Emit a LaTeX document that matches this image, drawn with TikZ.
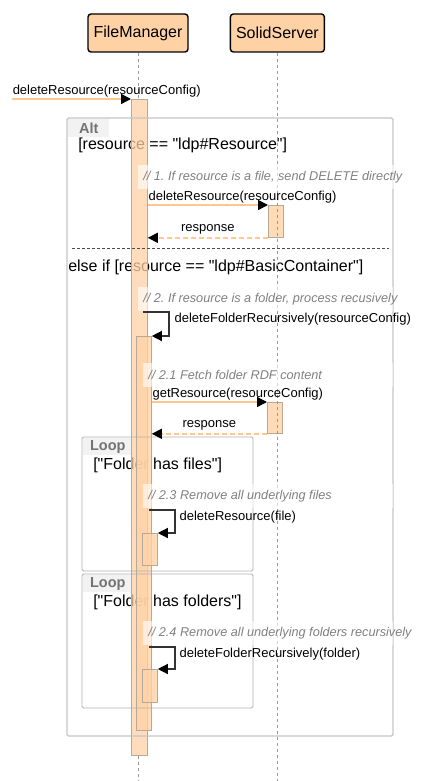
\documentclass[tikz,border=0pt]{standalone}
\usepackage{fontspec}
\setmainfont{Liberation Sans}[Ligatures=TeXOff]
\usetikzlibrary{arrows.meta,positioning}
\frenchspacing

\definecolor{peach}{HTML}{FFD2A6}
\definecolor{peachline}{HTML}{FFC68E}
\definecolor{actborder}{HTML}{B8A898}
\definecolor{framegray}{HTML}{C4C4C4}
\definecolor{notegray}{HTML}{808080}

\begin{document}
\begin{tikzpicture}[x=1pt,y=-1pt,>={Triangle[length=10pt,width=10pt,color=black]},semithick]
   \tikzstyle{actor}=[draw=black,line width=1.4pt,fill=peach,rounded corners=3pt,minimum height=38pt,inner sep=0pt,font=\fontsize{16}{19}\selectfont]
   \tikzstyle{lifeline}=[draw=gray!80,line width=0.8pt,dash pattern=on 3pt off 3pt]
   \tikzstyle{activation}=[draw=actborder,fill=peach,fill opacity=0.8,line width=0.8pt,inner sep=0pt,anchor=north west]
   \tikzstyle{fraglabel}=[fill=gray!10,inner sep=0pt,anchor=north west,text=gray!90!black,font=\fontsize{14.5}{16}\selectfont\bfseries]
   \tikzstyle{guard}=[anchor=west,inner sep=0pt,font=\fontsize{16}{19}\selectfont]
   \tikzstyle{lbl}=[inner sep=0pt,font=\fontsize{13}{15}\selectfont]
   \tikzstyle{call}=[->,draw=peachline,line width=1.5pt]
   \tikzstyle{reply}=[->,draw=peachline,line width=1.5pt,dash pattern=on 5pt off 3pt]
   \tikzstyle{selfcall}=[->,draw=black!80,line width=1.3pt]
   \tikzstyle{noteband}=[fill=white,fill opacity=0.6,inner sep=0pt,minimum height=24pt,anchor=north west]
   \tikzstyle{notetext}=[inner sep=0pt,anchor=west,text=notegray,font=\fontsize{12.7}{14}\selectfont\itshape]

   \useasboundingbox (0,0) rectangle (426,781);

   \node[actor,minimum width=100pt]   (fm)  at (138,33)  {FileManager};
   \node[actor,minimum width=94pt]   (ss)  [right=41pt of fm]  {SolidServer};
   \coordinate (bottom) at (0,781);

   \node[fraglabel,minimum width=41pt,minimum height=18pt]   (altLbl)  at (68,119)  {Alt};
   \node[guard]   (altIf)  at (78,145)  {[resource == "ldp\#Resource"]};
   \node[guard]   (altElse)  at (68,267)  {else if [resource == "ldp\#BasicContainer"]};
   \node[fraglabel,minimum width=49pt,minimum height=17pt]   (filesLbl)  at (83,438)  {Loop};
   \node[guard]   (filesIf)  at (93,465)  {["Folder has files"]};
   \node[fraglabel,minimum width=49pt,minimum height=17pt]   (foldersLbl)  at (83,575)  {Loop};
   \node[guard]   (foldersIf)  at (93,602)  {["Folder has folders"]};

   \node[activation,minimum width=16pt,minimum height=656pt,fill opacity=0.75]   (actFm)  at (131,99)  {};
   \node[activation,minimum width=15pt,minimum height=32pt]   (actSs1)  at (268,205)  {};
   \node[activation,minimum width=15pt,minimum height=394pt]   (actFmRec)  at (136,336)  {};
   \node[activation,minimum width=15pt,minimum height=31pt]   (actSs2)  at (267,402)  {};
   \node[activation,minimum width=15pt,minimum height=32pt]   (actFmFile)  at (142,533)  {};
   \node[activation,minimum width=15pt,minimum height=33pt]   (actFmFolder)  at (142,669)  {};

   \draw[lifeline] (fm.south) -- (fm.south |- actFm.north);
   \draw[lifeline] (fm.south |- actFm.south) -- (fm.south |- bottom);
   \draw[lifeline] (ss.south) -- (ss.south |- bottom);

   \draw[framegray,line width=1.2pt,rounded corners=1.5pt] (67,118) rectangle (393,736);
   \draw[framegray!90!black,line width=0.8pt,rounded corners=1.5pt] (82,437) rectangle (253,571);
   \draw[framegray!90!black,line width=0.8pt,rounded corners=1.5pt] (82,574) rectangle (253,708);
   \draw[black!70,line width=0.7pt,dash pattern=on 3pt off 2pt] (72,248) -- (389,248);

   \coordinate (caller) at (12,99);
   \coordinate (self1) at (143,312);
   \coordinate (self2) at (149,510);
   \coordinate (self3) at (149,647);

   \draw[call] (caller) -- node[lbl,at start,anchor=south west,yshift=1pt] {deleteResource(resourceConfig)} (actFm.north west);
   \draw[call] (actFm.east |- actSs1.north) -- node[lbl,at start,anchor=south west,yshift=1pt] {deleteResource(resourceConfig)} (actSs1.north west);
   \draw[reply] (actSs1.south west) -- node[lbl,above=3pt] {response} (actFm.east |- actSs1.south);
   \draw[selfcall] (self1) -- ++(26,0) node[lbl,anchor=north west,xshift=5pt] {deleteFolderRecursively(resourceConfig)} |- (actFmRec.north east);
   \draw[call] (actFmRec.east |- actSs2.north) -- node[lbl,at start,anchor=south west,yshift=1pt] {getResource(resourceConfig)} (actSs2.north west);
   \draw[reply] (actSs2.south west) -- node[lbl,above=3pt] {response} (actFmRec.east |- actSs2.south);
   \draw[selfcall] (self2) -- ++(26,0) node[lbl,anchor=north west,xshift=4pt] {deleteResource(file)} |- (actFmFile.north east);
   \draw[selfcall] (self3) -- ++(26,0) node[lbl,anchor=north west,xshift=4pt] {deleteFolderRecursively(folder)} |- (actFmFolder.north east);

   \node[noteband,minimum width=256pt]   (note1)  at (138,165)  {};
   \node[notetext]   [right=5pt of note1.west]  {// 1. If resource is a file, send DELETE directly};
   \node[noteband,minimum width=255pt]   (note2)  at (138,287)  {};
   \node[notetext]   [right=5pt of note2.west]  {// 2. If resource is a folder, process recusively};
   \node[noteband,minimum width=250pt]   (note3)  at (143,363)  {};
   \node[notetext]   [right=5pt of note3.west]  {// 2.1 Fetch folder RDF content};
   \node[noteband,minimum width=250pt]   (note4)  at (143,484)  {};
   \node[notetext]   [right=5pt of note4.west]  {// 2.3 Remove all underlying files};
   \node[noteband,minimum width=250pt]   (note5)  at (143,621)  {};
   \node[notetext]   [right=5pt of note5.west]  {// 2.4 Remove all underlying folders recursively};
\end{tikzpicture}
\end{document}
